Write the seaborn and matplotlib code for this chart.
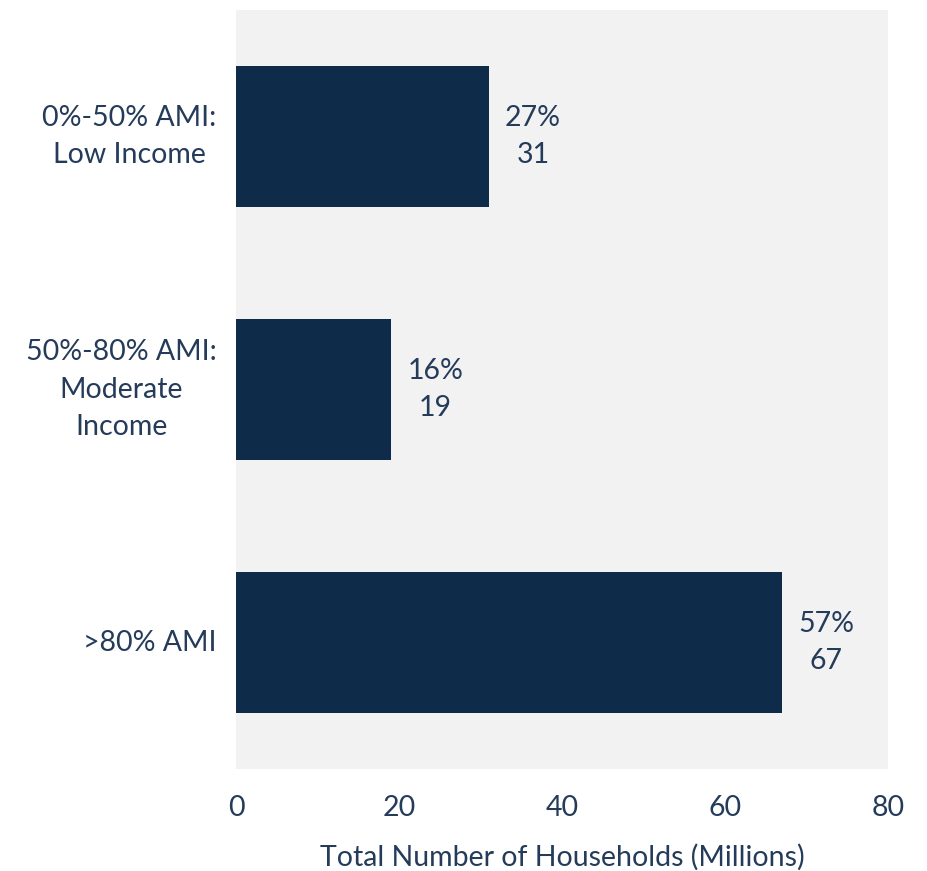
import matplotlib.pyplot as plt
import seaborn as sns
import pandas as pd

categories = ["0%-50% AMI:\nLow Income", "50%-80% AMI:\nModerate\nIncome", ">80% AMI"]
households = [31, 19, 67]
shares = [27, 16, 57]

navy = "#0f2b4a"
txt = "#243b5a"

sns.set_theme(style="white")
plt.rcParams["font.family"] = ["Lato", "DejaVu Sans"]

df = pd.DataFrame({"cat": categories, "hh": households, "pct": shares})

fig = plt.figure(figsize=(9.28, 8.71), dpi=100)
ax = fig.add_axes([0.2543, 0.1171, 0.7026, 0.8714])
sns.barplot(data=df, x="hh", y="cat", color=navy, width=0.555, saturation=1,
            linewidth=0, ax=ax)
ax.set_facecolor("#f2f2f2")
for s in ax.spines.values():
    s.set_visible(False)

fs = 20.5
ax.set_xlim(0, 80)
ax.set_xticks([0, 20, 40, 60, 80])
ax.tick_params(axis="x", labelsize=fs, colors=txt, pad=19, length=0)
ax.tick_params(axis="y", labelsize=fs, colors=txt, pad=14, length=0)
for lab in ax.get_yticklabels():
    lab.set_multialignment("center")
    lab.set_linespacing(1.55)
    lab.set_verticalalignment("center")
ax.set_ylabel("")
ax.set_xlabel("Total Number of Households (Millions)", fontsize=fs, color=txt, labelpad=16)

for i, (v, p) in enumerate(zip(households, shares)):
    ax.annotate(f"{p}%\n{v}", xy=(v, i), xytext=(32, 0), textcoords="offset points",
                ha="center", va="center", fontsize=fs, color=txt, linespacing=1.55)

fig.savefig("out.png", dpi=100)
